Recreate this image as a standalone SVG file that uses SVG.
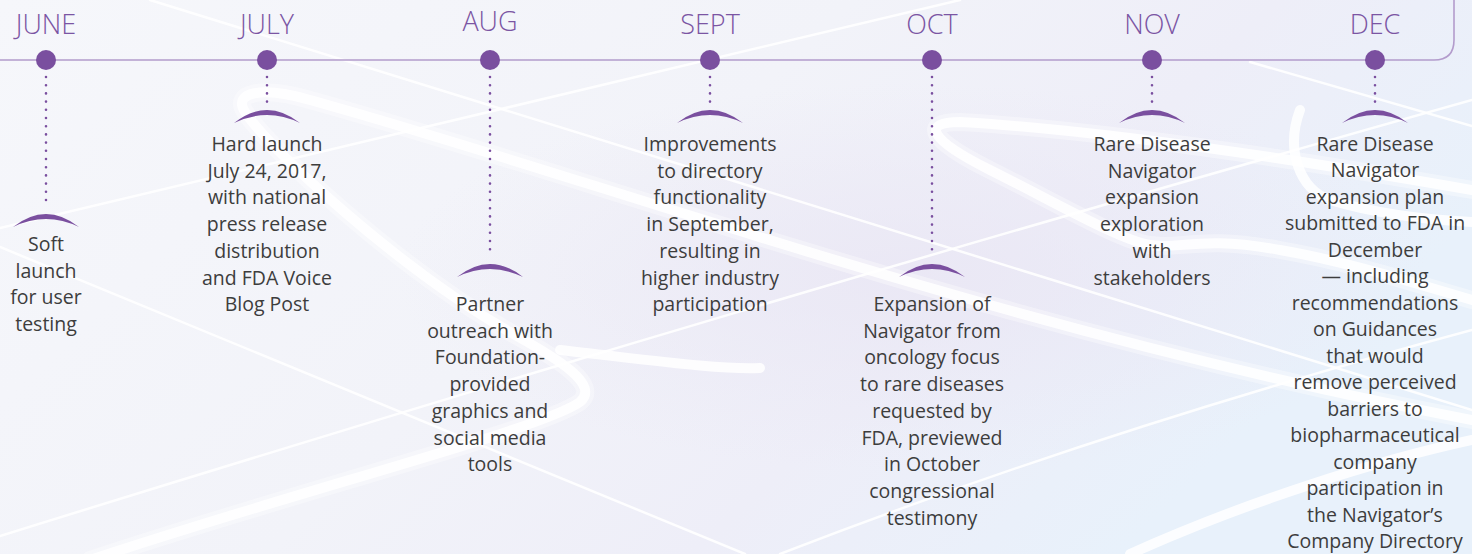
<svg xmlns="http://www.w3.org/2000/svg" width="1472" height="554" viewBox="0 0 1472 554">
  <defs>
    <linearGradient id="bg" x1="0" y1="0" x2="1" y2="0.4">
      <stop offset="0" stop-color="#f6f7fb"/>
      <stop offset="0.5" stop-color="#f2f3f9"/>
      <stop offset="0.75" stop-color="#eeeef8"/>
      <stop offset="1" stop-color="#e8f1fb"/>
    </linearGradient>
    <radialGradient id="haze" cx="0.62" cy="0.5" r="0.35">
      <stop offset="0" stop-color="#e9e6f4" stop-opacity="0.8"/>
      <stop offset="1" stop-color="#e9e6f4" stop-opacity="0"/>
    </radialGradient>
    <style>
      .swoosh { fill: none; stroke: #ffffff; stroke-linecap: round; }
      .thin { stroke-width: 2.5; opacity: 0.9; }
      .band { stroke-width: 10; opacity: 0.85; }
      .glow { stroke-width: 18; opacity: 0.35; }
      .frame { fill: none; stroke: #b39ccc; stroke-width: 1.6; }
      .dot { fill: #7a4f9f; }
      .stem { fill: none; stroke: #7a4f9f; stroke-width: 2.6; stroke-linecap: round; stroke-dasharray: 0 8.2; }
      .cap { fill: #7a4f9f; }
      .month { font-family: "Open Sans", "Liberation Sans", sans-serif; font-size: 27px; font-weight: 300; fill: #7b55a3; text-anchor: middle; }
      .desc { font-family: "Open Sans", "Liberation Sans", sans-serif; font-size: 19.5px; fill: #3d3d3d; text-anchor: middle; }
    </style>
  </defs>

  <!-- backdrop -->
  <rect width="1472" height="554" fill="url(#bg)"/>
  <rect width="1472" height="554" fill="url(#haze)"/>

  <!-- white ribbon swooshes -->
  <g id="swooshes">
    <path class="swoosh thin" d="M0,228 L960,0"/>
    <path class="swoosh thin" d="M0,247 L745,554"/>
    <path class="swoosh thin" d="M0,536 Q760,300 1472,100"/>
    <path class="swoosh thin" d="M150,0 L1472,410"/>
    <path class="swoosh thin" d="M1250,62 L1472,126"/>
    <path class="swoosh thin" d="M780,554 Q1100,430 1472,330"/>
    <path class="swoosh glow" d="M90,560 C300,490 540,430 580,402 C600,385 560,360 515,335 C400,270 270,150 245,112 C232,92 262,86 310,100 C600,180 1000,330 1472,420"/>
    <path class="swoosh band" d="M90,560 C300,490 540,430 580,402 C600,385 560,360 515,335 C400,270 270,150 245,112 C232,92 262,86 310,100 C600,180 1000,330 1472,420"/>
    <path class="swoosh band" d="M1130,554 C1250,500 1380,460 1472,440"/>
    <path class="swoosh band" d="M560,350 C650,360 720,370 760,368"/>
    <path class="swoosh glow" d="M1472,190 C1300,160 1100,130 960,122 C920,122 930,140 990,170 C1060,205 1120,240 1150,245 C1180,250 1200,235 1280,250 C1350,262 1420,285 1472,300"/>
    <path class="swoosh band" d="M1472,190 C1300,160 1100,130 960,122 C920,122 930,140 990,170 C1060,205 1120,240 1150,245 C1180,250 1200,235 1280,250 C1350,262 1420,285 1472,300"/>
    <path class="swoosh band" d="M1300,110 C1285,150 1300,190 1330,200 C1380,215 1430,220 1472,222"/>
  </g>

  <!-- timeline rail -->
  <path class="frame" d="M0,60 L1434,60 Q1454,60 1454,40 L1454,0"/>

  <g id="connectors">
    <line class="stem" x1="46" y1="77" x2="46" y2="206"/>
    <line class="stem" x1="267" y1="77" x2="267" y2="102"/>
    <line class="stem" x1="490" y1="77" x2="490" y2="257"/>
    <line class="stem" x1="710" y1="77" x2="710" y2="102"/>
    <line class="stem" x1="932" y1="77" x2="932" y2="257"/>
    <line class="stem" x1="1152" y1="77" x2="1152" y2="102"/>
    <line class="stem" x1="1375" y1="77" x2="1375" y2="102"/>
  </g>

  <g id="june">
    <circle class="dot" cx="46" cy="60" r="10"/>
    <text class="month" x="46" y="34">JUNE</text>
    <path class="cap" d="M13,227 Q46,201 79,227 Q46,211 13,227 Z"/>
    <text class="desc" x="46" y="251">Soft</text>
    <text class="desc" x="46" y="277.7">launch</text>
    <text class="desc" x="46" y="304.4">for user</text>
    <text class="desc" x="46" y="331.1">testing</text>
  </g>

  <g id="july">
    <circle class="dot" cx="267" cy="60" r="10"/>
    <text class="month" x="267" y="34">JULY</text>
    <path class="cap" d="M234,123 Q267,97 300,123 Q267,107 234,123 Z"/>
    <text class="desc" x="267" y="151">Hard launch</text>
    <text class="desc" x="267" y="177.7">July 24, 2017,</text>
    <text class="desc" x="267" y="204.4">with national</text>
    <text class="desc" x="267" y="231.1">press release</text>
    <text class="desc" x="267" y="257.8">distribution</text>
    <text class="desc" x="267" y="284.5">and FDA Voice</text>
    <text class="desc" x="267" y="311.2">Blog Post</text>
  </g>

  <g id="aug">
    <circle class="dot" cx="490" cy="60" r="10"/>
    <text class="month" x="490" y="31">AUG</text>
    <path class="cap" d="M457,277 Q490,251 523,277 Q490,261 457,277 Z"/>
    <text class="desc" x="490" y="311">Partner</text>
    <text class="desc" x="490" y="337.7">outreach with</text>
    <text class="desc" x="490" y="364.4">Foundation-</text>
    <text class="desc" x="490" y="391.1">provided</text>
    <text class="desc" x="490" y="417.8">graphics and</text>
    <text class="desc" x="490" y="444.5">social media</text>
    <text class="desc" x="490" y="471.2">tools</text>
  </g>

  <g id="sept">
    <circle class="dot" cx="710" cy="60" r="10"/>
    <text class="month" x="710" y="34">SEPT</text>
    <path class="cap" d="M677,123 Q710,97 743,123 Q710,107 677,123 Z"/>
    <text class="desc" x="710" y="151">Improvements</text>
    <text class="desc" x="710" y="177.7">to directory</text>
    <text class="desc" x="710" y="204.4">functionality</text>
    <text class="desc" x="710" y="231.1">in September,</text>
    <text class="desc" x="710" y="257.8">resulting in</text>
    <text class="desc" x="710" y="284.5">higher industry</text>
    <text class="desc" x="710" y="311.2">participation</text>
  </g>

  <g id="oct">
    <circle class="dot" cx="932" cy="60" r="10"/>
    <text class="month" x="932" y="34">OCT</text>
    <path class="cap" d="M899,277 Q932,251 965,277 Q932,261 899,277 Z"/>
    <text class="desc" x="932" y="311">Expansion of</text>
    <text class="desc" x="932" y="337.7">Navigator from</text>
    <text class="desc" x="932" y="364.4">oncology focus</text>
    <text class="desc" x="932" y="391.1">to rare diseases</text>
    <text class="desc" x="932" y="417.8">requested by</text>
    <text class="desc" x="932" y="444.5">FDA, previewed</text>
    <text class="desc" x="932" y="471.2">in October</text>
    <text class="desc" x="932" y="497.9">congressional</text>
    <text class="desc" x="932" y="524.6">testimony</text>
  </g>

  <g id="nov">
    <circle class="dot" cx="1152" cy="60" r="10"/>
    <text class="month" x="1152" y="34">NOV</text>
    <path class="cap" d="M1119,123 Q1152,97 1185,123 Q1152,107 1119,123 Z"/>
    <text class="desc" x="1152" y="151">Rare Disease</text>
    <text class="desc" x="1152" y="177.7">Navigator</text>
    <text class="desc" x="1152" y="204.4">expansion</text>
    <text class="desc" x="1152" y="231.1">exploration</text>
    <text class="desc" x="1152" y="257.8">with</text>
    <text class="desc" x="1152" y="284.5">stakeholders</text>
  </g>

  <g id="dec">
    <circle class="dot" cx="1375" cy="60" r="10"/>
    <text class="month" x="1375" y="34">DEC</text>
    <path class="cap" d="M1342,123 Q1375,97 1408,123 Q1375,107 1342,123 Z"/>
    <text class="desc" x="1375" y="150.5">Rare Disease</text>
    <text class="desc" x="1375" y="177">Navigator</text>
    <text class="desc" x="1375" y="203.5">expansion plan</text>
    <text class="desc" x="1375" y="230">submitted to FDA in</text>
    <text class="desc" x="1375" y="256.5">December</text>
    <text class="desc" x="1375" y="283">— including</text>
    <text class="desc" x="1375" y="309.5">recommendations</text>
    <text class="desc" x="1375" y="336">on Guidances</text>
    <text class="desc" x="1375" y="362.5">that would</text>
    <text class="desc" x="1375" y="389">remove perceived</text>
    <text class="desc" x="1375" y="415.5">barriers to</text>
    <text class="desc" x="1375" y="442">biopharmaceutical</text>
    <text class="desc" x="1375" y="468.5">company</text>
    <text class="desc" x="1375" y="495">participation in</text>
    <text class="desc" x="1375" y="521.5">the Navigator’s</text>
    <text class="desc" x="1375" y="548">Company Directory</text>
  </g>
</svg>
